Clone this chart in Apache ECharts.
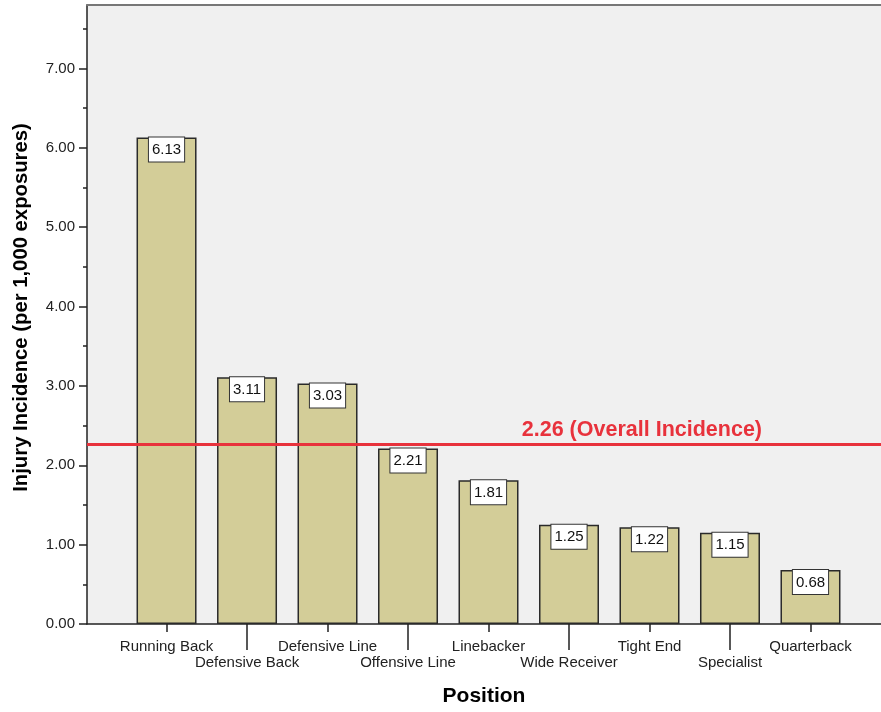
<!DOCTYPE html>
<html>
<head>
<meta charset="utf-8">
<script src="https://cdn.jsdelivr.net/npm/echarts@6/dist/echarts.min.js"></script>
<style>
html,body{margin:0;padding:0;background:#fff;}
#main{width:881px;height:712px;}
</style>
</head>
<body>
<div id="main"></div>
<script>
// data
var positions = ['Running Back','Defensive Back','Defensive Line','Offensive Line','Linebacker','Wide Receiver','Tight End','Specialist','Quarterback'];
var incidence = [6.13,3.11,3.03,2.21,1.81,1.25,1.22,1.15,0.68];
var overall = 2.26;
var yTicks = [0,1,2,3,4,5,6,7];
var yMinor = [0.5,1.5,2.5,3.5,4.5,5.5,6.5,7.5];

// labels alternate in two rows
var rowTop = [], rowBottom = [];
for(var i=0;i<positions.length;i++){
	if(i%2==0) rowTop.push(i); else rowBottom.push(i);
}
var barData = [];
for(var i=0;i<incidence.length;i++){
	barData.push([i,incidence[i]]);
}

var font = 'Liberation Sans, Arial, sans-serif';
var xMin = -0.988, xMax = 8.876;

var myChart = echarts.init(document.getElementById('main'));
var option = {
	animation:false,
	textStyle:{fontFamily:font},
	grid:{left:87,right:0,top:5,bottom:86,show:true,backgroundColor:'#f0f0f0',borderWidth:0},
	xAxis:[
		{
			type:'value',min:xMin,max:xMax,position:'bottom',
			name:'Position',nameLocation:'middle',nameGap:62,
			nameTextStyle:{fontSize:21,fontWeight:'bold',color:'#000',fontFamily:font},
			axisLine:{show:true,onZero:false,lineStyle:{color:'#222',width:1.5}},
			axisTick:{show:true,length:8,customValues:rowTop,lineStyle:{color:'#222',width:1.5}},
			axisLabel:{customValues:rowTop,margin:15,fontSize:15,color:'#222',fontFamily:font,
				formatter:function(v){return positions[Math.round(v)];}},
			splitLine:{show:false}
		},
		{
			type:'value',min:xMin,max:xMax,position:'bottom',
			axisLine:{show:false,onZero:false},
			axisTick:{show:true,length:26,customValues:rowBottom,lineStyle:{color:'#222',width:1.5}},
			axisLabel:{customValues:rowBottom,margin:31,fontSize:15,color:'#222',fontFamily:font,
				formatter:function(v){return positions[Math.round(v)];}},
			splitLine:{show:false}
		},
		{
			type:'value',min:xMin,max:xMax,position:'top',
			axisLine:{show:true,onZero:false,lineStyle:{color:'#777',width:2}},
			axisTick:{show:false},axisLabel:{show:false},splitLine:{show:false}
		}
	],
	yAxis:[
		{
			type:'value',min:0,max:7.8,position:'left',
			name:'Injury Incidence (per 1,000 exposures)',nameLocation:'middle',nameGap:56,
			nameTextStyle:{fontSize:20.3,fontWeight:'bold',color:'#000',fontFamily:font,padding:[0,0,0,14]},
			axisLine:{show:true,onZero:false,lineStyle:{color:'#222',width:1.5}},
			axisTick:{show:true,length:8,customValues:yTicks,lineStyle:{color:'#222',width:1.5}},
			axisLabel:{customValues:yTicks,margin:12,fontSize:15,color:'#222',fontFamily:font,
				formatter:function(v){return v.toFixed(2);}},
			splitLine:{show:false}
		},
		{
			type:'value',min:0,max:7.8,position:'left',
			axisLine:{show:false,onZero:false},
			axisTick:{show:true,length:4,customValues:yMinor,lineStyle:{color:'#222',width:1.5}},
			axisLabel:{show:false},splitLine:{show:false}
		}
	],
	series:[
		{
			type:'bar',
			xAxisIndex:0,yAxisIndex:0,
			barWidth:60,
			data:barData,
			itemStyle:{color:'#d3cd98',borderColor:'#2a2a2a',borderWidth:1.5},
			emphasis:{disabled:true},
			label:{
				show:true,position:'insideTop',distance:0,
				fontSize:15,color:'#111',fontFamily:font,
				backgroundColor:'#fff',borderColor:'#333',borderWidth:1,padding:[5,3,4,3],
				formatter:function(p){return p.value[1].toFixed(2);}
			},
			markLine:{
				silent:true,symbol:'none',
				lineStyle:{color:'#e8323c',width:3,type:'solid'},
				label:{
					position:'insideEndTop',distance:[119,4],
					fontSize:21.5,fontWeight:'bold',color:'#e8323c',fontFamily:font,
					formatter:overall.toFixed(2)+' (Overall Incidence)'
				},
				data:[{yAxis:overall}]
			}
		}
	]
};
myChart.setOption(option);
</script>
</body>
</html>
